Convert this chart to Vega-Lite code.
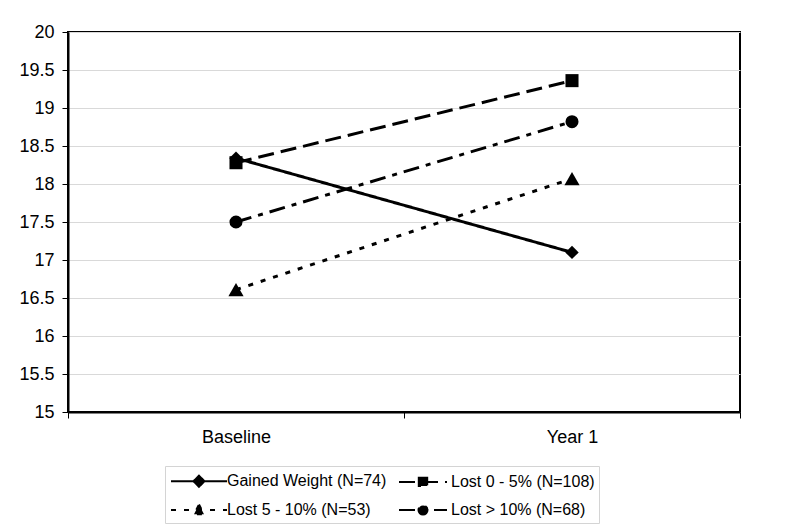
{
  "$schema": "https://vega.github.io/schema/vega-lite/v6.json",
  "autosize": {"type": "none"},
  "padding": {"left": 68, "top": 32, "right": 60, "bottom": 118},
  "width": 672,
  "height": 380,
  "background": "white",
  "config": {
    "font": "Liberation Sans",
    "view": {"stroke": "black", "strokeWidth": 2},
    "axis": {"labelFont": "Liberation Sans", "labelFontSize": 18, "labelColor": "black", "domainColor": "black", "tickColor": "black"}
  },
  "data": {
    "values": [
      {"group": "Gained Weight (N=74)", "time": "Baseline", "value": 18.34},
      {"group": "Gained Weight (N=74)", "time": "Year 1", "value": 17.10},
      {"group": "Lost 0 - 5% (N=108)", "time": "Baseline", "value": 18.28},
      {"group": "Lost 0 - 5% (N=108)", "time": "Year 1", "value": 19.36},
      {"group": "Lost 5 - 10% (N=53)", "time": "Baseline", "value": 16.61},
      {"group": "Lost 5 - 10% (N=53)", "time": "Year 1", "value": 18.07},
      {"group": "Lost > 10% (N=68)", "time": "Baseline", "value": 17.50},
      {"group": "Lost > 10% (N=68)", "time": "Year 1", "value": 18.82}
    ]
  },
  "encoding": {
    "x": {
      "field": "time", "type": "nominal",
      "scale": {"type": "band", "paddingInner": 0, "paddingOuter": 0},
      "axis": {"title": null, "labelAngle": 0, "labelFontSize": 18, "domainWidth": 2, "tickBand": "extent", "tickSize": 6, "labelPadding": 10, "grid": false}
    },
    "y": {
      "field": "value", "type": "quantitative",
      "scale": {"domain": [15, 20], "nice": false, "zero": false},
      "axis": {"title": null, "format": "~g", "labelFontSize": 18, "values": [15, 15.5, 16, 16.5, 17, 17.5, 18, 18.5, 19, 19.5, 20], "domainWidth": 2, "tickSize": 6, "labelPadding": 8, "gridColor": "#d9d9d9", "gridWidth": 1}
    }
  },
  "layer": [
    {
      "mark": {"type": "line", "color": "black", "strokeWidth": 3},
      "encoding": {
        "detail": {"field": "group"},
        "strokeDash": {
          "field": "group", "type": "nominal",
          "scale": {
            "domain": ["Gained Weight (N=74)", "Lost 0 - 5% (N=108)", "Lost 5 - 10% (N=53)", "Lost > 10% (N=68)"],
            "range": [[1, 0], [16, 7], [5, 8], [16, 7, 5, 7]]
          },
          "legend": {
            "title": null,
            "orient": "none",
            "legendX": 97,
            "legendY": 434,
            "direction": "horizontal",
            "columns": 2,
            "columnPadding": 6,
            "rowPadding": 8,
            "padding": 4,
            "strokeColor": "#d4d4d4",
            "fillColor": "white",
            "labelFont": "Liberation Sans",
            "labelFontSize": 16,
            "labelColor": "black",
            "labelOffset": 17,
            "symbolSize": 400,
            "symbolOffset": 19,
            "symbolStrokeWidth": 2,
            "symbolStrokeColor": "black",
            "symbolFillColor": "black",
            "encode": {
              "symbols": {
                "update": {
                  "shape": {"signal": "datum.value === 'Gained Weight (N=74)' ? 'M-2.8,0H2.8M0,-0.55L0.55,0L0,0.55L-0.55,0Z' : datum.value === 'Lost 0 - 5% (N=108)' ? 'M-2.4,0H2.4M-0.42,-0.42H0.42V0.42H-0.42Z' : datum.value === 'Lost 5 - 10% (N=53)' ? 'M-2.8,0H2.8M0,-0.55L0.5,0.42L-0.5,0.42Z' : 'M-2.4,0H2.4M0.45,0A0.45,0.45 0 1,1 -0.45,0A0.45,0.45 0 1,1 0.45,0Z'"},
                  "fill": {"value": "black"},
                  "stroke": {"value": "black"},
                  "strokeWidth": {"value": 2}
                }
              }
            }
          }
        }
      }
    },
    {
      "transform": [{"filter": "datum.group === 'Gained Weight (N=74)'"}],
      "mark": {"type": "point", "shape": "diamond", "filled": true, "color": "black", "size": 180, "opacity": 1}
    },
    {
      "transform": [{"filter": "datum.group === 'Lost 0 - 5% (N=108)'"}],
      "mark": {"type": "point", "shape": "square", "filled": true, "color": "black", "size": 170, "opacity": 1}
    },
    {
      "transform": [{"filter": "datum.group === 'Lost 5 - 10% (N=53)'"}],
      "mark": {"type": "point", "shape": "triangle-up", "filled": true, "color": "black", "size": 230, "opacity": 1}
    },
    {
      "transform": [{"filter": "datum.group === 'Lost > 10% (N=68)'"}],
      "mark": {"type": "point", "shape": "circle", "filled": true, "color": "black", "size": 170, "opacity": 1}
    }
  ]
}
